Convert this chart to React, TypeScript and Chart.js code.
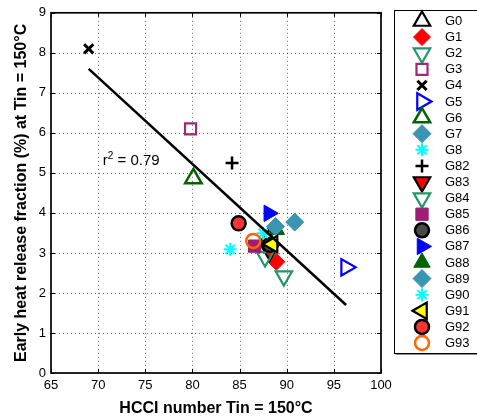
import React, { useEffect, useRef } from 'react';
import { Chart, registerables } from 'chart.js';
import { drawPoint } from 'chart.js/helpers';

Chart.register(...registerables);

// ---- data ----
const groupNames = ['G0', 'G1', 'G2', 'G3', 'G4', 'G5', 'G6', 'G7', 'G8', 'G82', 'G83', 'G84', 'G85', 'G86', 'G87', 'G88', 'G89', 'G90', 'G91', 'G92', 'G93'];
const hcciNumber = [88.0, 88.9, 89.7, 79.8, 69.0, 96.3, 80.1, 90.85, 84.0, 84.2, 88.2, 87.7, 86.6, 88.2, 88.1, 88.9, 88.8, 87.5, 88.5, 84.9, 86.45];
const earlyHeatRelease = [3.35, 2.78, 2.42, 6.1, 8.1, 2.64, 4.86, 3.77, 3.09, 5.25, 3.05, 2.9, 3.17, 3.2, 3.99, 3.58, 3.66, 3.49, 3.22, 3.74, 3.3];
const fitX = [69.0, 96.3];
const fitY = [7.6, 1.7];
const r2Label = '0.79';
const r2Pos = [70.5, 5.19];
const xTicksMin = 65, xTicksMax = 100, xStep = 5;
const yTicksMin = 0, yTicksMax = 9, yStep = 1;

// ---- styles ----
const pointStyles = ['triangle', 'rectRot', 'triangle', 'rect', 'crossRot', 'triangle', 'triangle', 'rectRot', 'star', 'cross', 'triangle', 'triangle', 'rect', 'circle', 'triangle', 'triangle', 'rectRot', 'star', 'triangle', 'circle', 'circle'];
const rotations = [0, 0, 180, 0, 0, 90, 0, 0, 0, 0, 180, 180, 0, 0, 90, 0, 0, 0, 270, 0, 0];
const fills = ['rgba(0,0,0,0)', '#ff0000', 'rgba(0,0,0,0)', 'rgba(0,0,0,0)', '#000000', 'rgba(0,0,0,0)', 'rgba(0,0,0,0)', '#3a95b3', '#00ffff', '#000000', '#ff0000', 'rgba(0,0,0,0)', '#9c1f74', '#4a4a4a', '#0000ff', '#006400', '#3a95b3', '#00ffff', '#ffff00', '#ff3333', 'rgba(0,0,0,0)'];
const edges = ['#000000', '#ff0000', '#23966a', '#9c2a7a', '#000000', '#0000ff', '#006400', '#3a95b3', '#00ffff', '#000000', '#000000', '#23966a', '#9c1f74', '#000000', '#0000ff', '#006400', '#3a95b3', '#00ffff', '#000000', '#000000', '#ff6600'];
const radii = [9.5, 8.5, 9.5, 7.8, 6.5, 9.5, 9.5, 9, 6.5, 6.5, 9.5, 9.5, 8.7, 7, 9.5, 9.5, 9, 6.5, 9.5, 7, 7];
const borderWidths = [2.2, 1, 2.2, 2.2, 3, 2.2, 2.5, 1, 2, 2.5, 2.2, 2.2, 1, 2.5, 1, 1, 1, 2, 2.2, 2.5, 2.5];

const FONT = "'Liberation Sans', Arial, Helvetica, sans-serif";

const axesPlugin = {
  id: 'matlabAxes',
  beforeDatasetsDraw(chart: any) {
    const { ctx, chartArea, scales } = chart;
    const { left, right, top, bottom } = chartArea;
    const xs = scales.x, ys = scales.y;
    ctx.save();
    ctx.strokeStyle = 'rgba(0,0,0,0.6)';
    ctx.lineWidth = 1;
    ctx.setLineDash([1, 3]);
    xs.ticks.forEach((t: any) => {
      const px = Math.round(xs.getPixelForValue(t.value)) + 0.5;
      if (px > left + 2 && px < right - 2) {
        ctx.beginPath(); ctx.moveTo(px, top); ctx.lineTo(px, bottom); ctx.stroke();
      }
    });
    ys.ticks.forEach((t: any) => {
      const py = Math.round(ys.getPixelForValue(t.value)) + 0.5;
      if (py > top + 2 && py < bottom - 2) {
        ctx.beginPath(); ctx.moveTo(left, py); ctx.lineTo(right, py); ctx.stroke();
      }
    });
    ctx.restore();
  },
  afterDatasetsDraw(chart: any) {
    const { ctx, chartArea, scales } = chart;
    const { left, right, top, bottom } = chartArea;
    const xs = scales.x, ys = scales.y;
    ctx.save();
    ctx.strokeStyle = '#000';
    ctx.lineWidth = 1;
    const tl = 4;
    xs.ticks.forEach((t: any) => {
      const px = Math.round(xs.getPixelForValue(t.value)) + 0.5;
      ctx.beginPath(); ctx.moveTo(px, bottom); ctx.lineTo(px, bottom - tl); ctx.stroke();
      ctx.beginPath(); ctx.moveTo(px, top); ctx.lineTo(px, top + tl); ctx.stroke();
    });
    ys.ticks.forEach((t: any) => {
      const py = Math.round(ys.getPixelForValue(t.value)) + 0.5;
      ctx.beginPath(); ctx.moveTo(left, py); ctx.lineTo(left + tl, py); ctx.stroke();
      ctx.beginPath(); ctx.moveTo(right, py); ctx.lineTo(right - tl, py); ctx.stroke();
    });
    ctx.lineWidth = 1.7;
    ctx.strokeRect(left, top, right - left, bottom - top);
    // r^2 annotation
    const tx = xs.getPixelForValue(r2Pos[0]);
    const ty = ys.getPixelForValue(r2Pos[1]);
    ctx.fillStyle = '#000';
    ctx.textBaseline = 'alphabetic';
    ctx.textAlign = 'left';
    ctx.font = `15px ${FONT}`;
    ctx.fillText('r', tx, ty);
    const rw = ctx.measureText('r').width;
    ctx.font = `10px ${FONT}`;
    ctx.fillText('2', tx + rw, ty - 6);
    const sw = ctx.measureText('2').width;
    ctx.font = `15px ${FONT}`;
    ctx.fillText(' = ' + r2Label, tx + rw + sw, ty);
    ctx.restore();
  },
  afterDraw(chart: any) {
    const { ctx } = chart;
    ctx.save();
    const boxL = 394.5, boxT = 10.5, boxB = 353.5, boxR = 480;
    ctx.fillStyle = '#fff';
    ctx.fillRect(boxL, boxT, boxR - boxL, boxB - boxT);
    ctx.strokeStyle = '#000';
    ctx.lineWidth = 1;
    ctx.strokeRect(boxL, boxT, boxR - boxL, boxB - boxT);
    ctx.strokeStyle = 'rgba(0,0,0,0.45)';
    ctx.beginPath(); ctx.moveTo(boxL + 1, boxB + 1); ctx.lineTo(boxR, boxB + 1); ctx.stroke();
    const step = 16.1;
    groupNames.forEach((name, i) => {
      const cy = 21 + i * step;
      ctx.fillStyle = fills[i];
      ctx.strokeStyle = edges[i];
      ctx.lineWidth = borderWidths[i];
      drawPoint(ctx, { pointStyle: pointStyles[i], rotation: rotations[i], radius: radii[i], borderWidth: borderWidths[i] } as any, 422, cy);
      ctx.fillStyle = '#000';
      ctx.font = `13px ${FONT}`;
      ctx.textAlign = 'left';
      ctx.textBaseline = 'middle';
      ctx.fillText(name, 445, cy + 0.5);
    });
    ctx.restore();
  },
};

export default function App() {
  const canvasRef = useRef<HTMLCanvasElement | null>(null);
  useEffect(() => {
    const canvas = canvasRef.current;
    if (!canvas) return;
    const n = groupNames.length;
    const datasets: any[] = groupNames.map((name, i) => ({
      type: 'scatter',
      label: name,
      data: [{ x: hcciNumber[i], y: earlyHeatRelease[i] }],
      pointStyle: pointStyles[i],
      rotation: rotations[i],
      radius: radii[i],
      hoverRadius: radii[i],
      backgroundColor: fills[i],
      borderColor: edges[i],
      borderWidth: borderWidths[i],
      order: -i,
    }));
    datasets.push({
      type: 'line',
      label: 'fit',
      data: fitX.map((x, i) => ({ x, y: fitY[i] })),
      borderColor: '#000',
      borderWidth: 2.5,
      pointRadius: 0,
      showLine: true,
      fill: false,
      order: -n - 1,
    });
    const chart = new Chart(canvas, {
      type: 'scatter',
      data: { datasets },
      options: {
        animation: false,
        responsive: false,
        devicePixelRatio: 1,
        events: [],
        layout: { padding: { top: 12, right: 96, bottom: 0, left: 0 } },
        plugins: { legend: { display: false }, tooltip: { enabled: false }, title: { display: false } },
        scales: {
          x: {
            type: 'linear',
            min: xTicksMin,
            max: xTicksMax,
            grid: { display: false, drawTicks: false },
            border: { display: false },
            ticks: { stepSize: xStep, color: '#000', font: { family: FONT, size: 13 }, padding: 5, maxRotation: 0 },
            title: { display: true, text: 'HCCI number Tin = 150°C', color: '#000', font: { family: FONT, size: 16, weight: 'bold' }, padding: { top: 0, bottom: 0 } },
            afterFit: (s: any) => { s.height = 45; },
          },
          y: {
            type: 'linear',
            min: yTicksMin,
            max: yTicksMax,
            grid: { display: false, drawTicks: false },
            border: { display: false },
            ticks: { stepSize: yStep, color: '#000', font: { family: FONT, size: 13 }, padding: 5 },
            title: { display: true, text: 'Early heat release fraction (%) at Tin = 150°C', color: '#000', font: { family: FONT, size: 16, weight: 'bold' }, padding: { top: 12, bottom: 0 } },
            afterFit: (s: any) => { s.width = 51; },
          },
        },
      } as any,
      plugins: [axesPlugin],
    });
    return () => chart.destroy();
  }, []);
  return (
    <div style={{ position: 'absolute', left: 0, top: 0, width: 477, height: 418, background: '#fff' }}>
      <canvas ref={canvasRef} width={477} height={418} style={{ display: 'block' }} />
    </div>
  );
}
